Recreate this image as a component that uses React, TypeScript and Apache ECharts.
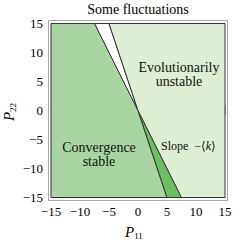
import React, { useEffect, useRef } from "react";
import * as echarts from "echarts";

// Axis settings
const AXIS_MIN = -15;
const AXIS_MAX = 15;
const AXIS_STEP = 5;

// Region polygons in (P11, P22) data coordinates
const convergenceStable: number[][] = [[-15, -15], [-15, 15], [-7.5, 15], [0, 0], [5, -15]];
const whiteWedge: number[][] = [[-7.5, 15], [-5, 15], [0, 0]];
const darkWedge: number[][] = [[0, 0], [7.5, -15], [5, -15]];
const evolutionarilyUnstable: number[][] = [[-5, 15], [15, 15], [15, -15], [7.5, -15], [0, 0]];

const TITLE = "Some fluctuations";
const FONT = "'Liberation Serif', 'DejaVu Serif', serif";

const regionSeries = (name: string, pts: number[][], fill: string) => ({
  type: "custom",
  name,
  xAxisIndex: 0,
  yAxisIndex: 0,
  data: pts,
  clip: false,
  renderItem: (params: any, api: any) => {
    if (params.dataIndex !== 0) return null;
    const points = pts.map((p) => api.coord(p));
    return {
      type: "polygon",
      shape: { points },
      style: { fill, stroke: "#333", lineWidth: 1 },
    };
  },
});

const fmt = (v: number) => (v < 0 ? "\u2212" + Math.abs(v) : String(v));

export default function App() {
  const ref = useRef<HTMLDivElement>(null);
  useEffect(() => {
    if (!ref.current) return;
    const chart = echarts.init(ref.current, null, { renderer: "svg" });
    const axisCommon = {
      type: "value",
      min: AXIS_MIN,
      max: AXIS_MAX,
      interval: AXIS_STEP,
      offset: 3,
      splitLine: { show: false },
      axisLine: { show: true, lineStyle: { color: "#a8a8a8", width: 1 } },
      axisTick: { show: true, inside: true, length: 4, lineStyle: { color: "#a8a8a8" } },
      minorTick: { show: true, splitNumber: 5, length: 2, lineStyle: { color: "#b8b8b8" } },
    };
    const label = {
      show: true,
      color: "#000",
      fontFamily: FONT,
      fontSize: 13,
      formatter: fmt,
    };
    chart.setOption({
      animation: false,
      grid: { left: 51, right: 24, top: 23.5, bottom: 43.5 },
      xAxis: [
        { ...axisCommon, position: "bottom", axisLabel: { ...label, margin: 4 } },
        { ...axisCommon, position: "top", axisLabel: { show: false } },
      ],
      yAxis: [
        { ...axisCommon, position: "left", axisLabel: { ...label, margin: 5 } },
        { ...axisCommon, position: "right", axisLabel: { show: false } },
      ],
      series: [
        regionSeries("Convergence stable", convergenceStable, "#a8d5a1"),
        regionSeries("White", whiteWedge, "#ffffff"),
        regionSeries("Dark", darkWedge, "#6cbf60"),
        regionSeries("Evolutionarily unstable", evolutionarilyUnstable, "#ddeed4"),
      ],
      graphic: [
        {
          type: "rect",
          z: 100,
          shape: { x: 48.5, y: 20.5, width: 179, height: 180 },
          style: { fill: "none", stroke: "#a8a8a8", lineWidth: 1 },
        },
        {
          type: "text",
          x: 138,
          y: 9,
          style: { text: TITLE, font: `14px ${FONT}`, fill: "#000", textAlign: "center", textVerticalAlign: "middle" },
        },
        {
          type: "text",
          x: 179,
          y: 74,
          z: 50,
          style: {
            text: "Evolutionarily\nunstable",
            font: `14px ${FONT}`,
            lineHeight: 14,
            fill: "#111",
            textAlign: "center",
            textVerticalAlign: "middle",
          },
        },
        {
          type: "text",
          x: 99,
          y: 154,
          z: 50,
          style: {
            text: "Convergence\nstable",
            font: `14px ${FONT}`,
            lineHeight: 14,
            fill: "#111",
            textAlign: "center",
            textVerticalAlign: "middle",
          },
        },
        {
          type: "text",
          x: 161,
          y: 146,
          z: 50,
          style: {
            text: "{a|Slope  \u2212\u27E8}{b|k}{a|\u27E9}",
            textAlign: "left",
            textVerticalAlign: "middle",
            rich: {
              a: { fontFamily: FONT, fontSize: 12, fill: "#111" },
              b: { fontFamily: FONT, fontSize: 12, fontStyle: "italic", fill: "#111" },
            },
          },
        },
        {
          type: "text",
          x: 125,
          y: 232,
          style: {
            text: "{p|P}{s|11}",
            textAlign: "left",
            textVerticalAlign: "middle",
            rich: {
              p: { fontFamily: FONT, fontSize: 15, fontStyle: "italic", fill: "#000" },
              s: { fontFamily: FONT, fontSize: 9, fill: "#000", padding: [7, 0, 0, 0] },
            },
          },
        },
        {
          type: "text",
          x: 9,
          y: 112,
          rotation: Math.PI / 2,
          style: {
            text: "{p|P}{s|22}",
            textAlign: "center",
            textVerticalAlign: "middle",
            rich: {
              p: { fontFamily: FONT, fontSize: 15, fontStyle: "italic", fill: "#000" },
              s: { fontFamily: FONT, fontSize: 9, fill: "#000", padding: [7, 0, 0, 0] },
            },
          },
        },
      ],
    });
    return () => chart.dispose();
  }, []);
  return (
    <div
      ref={ref}
      style={{ position: "fixed", left: 0, top: 0, width: 249, height: 241, background: "#fff" }}
    />
  );
}
